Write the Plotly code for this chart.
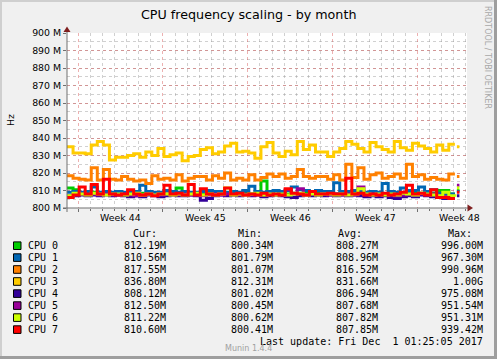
import pandas as pd
import plotly.graph_objects as go

# ---------------- data ----------------
names = ["CPU 0", "CPU 1", "CPU 2", "CPU 3", "CPU 4", "CPU 5", "CPU 6", "CPU 7"]
colors = ["#00CC00", "#0066B3", "#FF8000", "#FFCC00", "#330099", "#990099", "#CCFF00", "#FF0000"]
cur_txt = ["812.19M", "810.56M", "817.55M", "836.80M", "808.12M", "812.50M", "811.22M", "810.60M"]
min_txt = ["800.34M", "801.79M", "801.07M", "812.31M", "801.02M", "800.45M", "800.62M", "800.41M"]
avg_txt = ["808.27M", "808.96M", "816.52M", "831.66M", "806.94M", "807.68M", "807.82M", "807.85M"]
max_txt = ["996.00M", "967.30M", "990.96M", "1.00G", "975.08M", "951.54M", "951.31M", "939.42M"]
week_labels = ["Week 44", "Week 45", "Week 46", "Week 47", "Week 48"]
week_starts = ["2017-10-30", "2017-11-06", "2017-11-13", "2017-11-20", "2017-11-27"]
y_ticks = [800, 810, 820, 830, 840, 850, 860, 870, 880, 890, 900]

# 12-hourly samples (MHz)
cpu0 = [811.5, 810.5, 808, 808.5, 809, 808, 808.5, 808, 808, 808.5, 808, 808, 808.5, 808, 808, 808.5, 808, 808, 811.5, 808, 808.5, 808,
        808, 808.5, 808, 808, 808.5, 808, 808, 808.5, 808, 808.5, 815.5, 808.5, 808, 808.5, 808, 808.5, 808, 809, 808, 808.5, 808,
        808.5, 808, 808.5, 808, 808.5, 808, 808.5, 808, 808.5, 808, 808.5, 808, 808, 808.5, 809, 808.5, 808, 808.5, 810, 810, 808, 808]
cpu1 = [809, 809.5, 809, 809.5, 812, 809, 809.5, 809, 809.5, 809, 809, 809.5, 813, 809.5, 809, 809, 810, 809.5, 809, 809.5, 809, 809,
        809.5, 810, 809.5, 809.5, 809, 809.5, 809, 810, 812.5, 809.5, 809, 809.5, 810, 809.5, 810, 812, 810.5, 810, 809.5, 810, 809.5,
        809.5, 814.5, 809.5, 809.5, 810, 809.5, 809, 809.5, 809, 814, 809.5, 809, 811.5, 810, 810, 812, 809.5, 810.5, 808.5, 808, 808, 808]
cpu2 = [818.5, 817, 816.5, 816, 823, 816, 822, 816.5, 816, 818, 816.5, 815.5, 816, 814, 818.5, 816.5, 817, 816, 819, 815.5, 817, 818,
        818, 816, 818.5, 817, 820, 816, 817, 816, 819, 816, 817.5, 819.5, 818, 819.5, 817, 818, 822, 818, 817, 818, 818,
        816.5, 819, 816, 825, 817.5, 823, 816.5, 819, 820, 817, 818, 819.5, 817, 825, 818, 819, 816.5, 817.5, 816.5, 816, 819.5, 819.5]
cpu3 = [835, 831.5, 831.5, 831, 836, 838, 836, 827.5, 829, 829, 830, 831, 829, 832, 830, 834, 829.5, 830.5, 831.5, 827, 829.5, 830,
        833.5, 834.5, 831, 832, 835.5, 837, 832, 832.5, 831.5, 828.5, 835, 837.5, 831.5, 829.5, 832.5, 830.5, 838, 833.5, 836, 832, 832,
        829.5, 832, 834, 838, 836.5, 834, 832, 837.5, 835, 833.5, 832, 838, 834.5, 833, 837, 835.5, 834, 832, 836, 833, 836.5, 836.5]
cpu4 = [806.5, 807, 807.5, 807, 807.5, 807, 807.5, 807, 807.5, 807, 806.5, 807, 806.5, 807.5, 807, 806.5, 807, 807.5, 807, 807, 807.5, 807,
        804.5, 805.5, 807, 807.5, 807, 807.5, 807, 807.5, 807, 807.5, 806.5, 807, 807.5, 807, 806.5, 806, 807, 807.5, 807, 807.5, 807,
        807.5, 807, 807.5, 807, 807.5, 807, 806.5, 807, 806.5, 807, 806, 805.5, 806.5, 807, 806.5, 807.5, 807, 806.5, 806, 805.5, 805.5, 805.5]
cpu5 = [807, 807.5, 808, 807.5, 808, 807.5, 808, 807.5, 807.5, 808, 807.5, 807, 807.5, 808, 807.5, 807.5, 808, 807.5, 807.5, 808, 807.5, 807.5,
        807, 807.5, 808, 807.5, 808, 807.5, 807.5, 808, 807.5, 808, 807.5, 808, 807.5, 807.5, 810.5, 808, 811, 807.5, 808, 807.5, 808,
        807.5, 808, 807.5, 808, 807.5, 812, 807.5, 808, 807.5, 808, 807.5, 807, 807.5, 808, 807.5, 808, 807.5, 808, 807, 806.5, 806.5, 806.5]
cpu6 = [807, 808.5, 808, 807.5, 808.5, 808, 807.5, 808, 808, 807.5, 808, 808.5, 807.5, 808, 807.5, 808, 808, 807.5, 808, 807.5, 808, 808.5,
        807.5, 808, 807.5, 808, 811.5, 807.5, 808, 807.5, 808, 808.5, 807.5, 808, 807.5, 808, 807.5, 808, 808.5, 807.5, 808, 807.5, 808,
        808, 807.5, 808, 807.5, 808, 811, 808, 807.5, 808, 807.5, 808, 807.5, 808.5, 808, 807.5, 808.5, 808, 807.5, 807, 809, 807, 806.5]
cpu7 = [806, 807.5, 812, 808, 813.5, 808, 816.5, 808, 807.5, 808, 810.5, 808, 807.5, 808, 807, 808, 813, 808, 808.5, 807.5, 813.5, 807.5,
        811, 808, 807.5, 808, 811.5, 808, 808.5, 807.5, 808, 807.5, 808.5, 807.5, 808, 807.5, 811, 808.5, 808, 807.5, 809.5, 808, 808,
        808.5, 808, 808, 817, 808, 808.5, 807.5, 808, 807.5, 808.5, 807.5, 808, 809, 813, 808, 808.5, 807.5, 810.5, 806, 806, 805.5, 805.5]
series = [cpu0, cpu1, cpu2, cpu3, cpu4, cpu5, cpu6, cpu7]
# last isolated samples after the gap
tail_vals = [810, 809.5, 818, 835, 807, 813, 811.5, 809]
tail_times = ["2017-11-30 06:00", "2017-11-30 11:00"]

times = [t.strftime("%Y-%m-%d %H:%M") for t in pd.date_range("2017-10-29 02:00", periods=65, freq="12h")]
x_start, x_end = "2017-10-29 02:00", "2017-12-01 02:00"

# ---------------- geometry ----------------
W, H = 497, 359
PL, PR, PT, PB = 67, 467, 33, 208


def fx(px):
    return (px - PL) / (PR - PL)


def fy(py):
    return (PB - py) / (PB - PT)


fig = go.Figure()
for name, col, vals, tv in zip(names, colors, series, tail_vals):
    fig.add_trace(go.Scatter(
        x=times + [tail_times[0]] + tail_times,
        y=vals + [None] + [tv, tv],
        mode="lines", line=dict(color=col, width=3, shape="hv"),
        name=name, showlegend=False, connectgaps=False, hoverinfo="skip"))

RED_GRID = "rgba(210,60,60,0.40)"
GREY_GRID = "rgba(150,150,150,0.45)"
AXIS = "#707070"
FONT = "DejaVu Sans"
MONO = "DejaVu Sans Mono"

fig.update_layout(
    width=W, height=H, autosize=False,
    margin=dict(l=PL, r=W - PR, t=PT, b=H - PB, pad=0),
    paper_bgcolor="#F0F0F0", plot_bgcolor="#FFFFFF",
    showlegend=False,
    xaxis=dict(type="date", range=[x_start, x_end], showticklabels=False, automargin=False,
               tickmode="linear", tick0="2017-10-30", dtick=7 * 86400000,
               showgrid=True, gridcolor=RED_GRID, griddash="dot", gridwidth=1,
               ticks="outside", ticklen=3, tickcolor=AXIS, zeroline=False, showline=False,
               minor=dict(tickmode="linear", tick0="2017-10-30", dtick=86400000, showgrid=True,
                          gridcolor=GREY_GRID, griddash="dot", gridwidth=1,
                          ticks="outside", ticklen=2, tickcolor=AXIS)),
    yaxis=dict(range=[800, 900], tickmode="array", tickvals=y_ticks, automargin=False,
               ticktext=[f"{v} M" for v in y_ticks],
               showgrid=True, gridcolor=RED_GRID, griddash="dot", gridwidth=1,
               ticks="outside", ticklen=3, tickcolor=AXIS, zeroline=False, showline=False,
               tickfont=dict(family=FONT, size=9.4, color="#000"),
               minor=dict(tickmode="linear", tick0=800, dtick=5, showgrid=True,
                          gridcolor=GREY_GRID, griddash="dot", gridwidth=1)),
)

shapes = []
# frame of the image
shapes.append(dict(type="rect", xref="paper", yref="paper", x0=fx(0), x1=fx(2), y0=fy(H), y1=fy(0),
                   line=dict(width=0), fillcolor="#CFCFCF"))
shapes.append(dict(type="rect", xref="paper", yref="paper", x0=fx(0), x1=fx(W), y0=fy(2), y1=fy(0),
                   line=dict(width=0), fillcolor="#CFCFCF"))
shapes.append(dict(type="rect", xref="paper", yref="paper", x0=fx(W - 3), x1=fx(W), y0=fy(H), y1=fy(0),
                   line=dict(width=0), fillcolor="#9E9E9E"))
shapes.append(dict(type="rect", xref="paper", yref="paper", x0=fx(0), x1=fx(W), y0=fy(H), y1=fy(H - 3),
                   line=dict(width=0), fillcolor="#9E9E9E"))
# axes
shapes.append(dict(type="line", xref="paper", yref="paper", x0=fx(63), x1=fx(469), y0=0, y1=0,
                   line=dict(color=AXIS, width=1)))
shapes.append(dict(type="line", xref="paper", yref="paper", x0=0, x1=0, y0=fy(212), y1=fy(30),
                   line=dict(color=AXIS, width=1)))
# arrows
shapes.append(dict(type="path", xref="paper", yref="paper",
                   path=f"M {fx(473)},{fy(208)} L {fx(467.5)},{fy(204.5)} L {fx(467.5)},{fy(211.5)} Z",
                   fillcolor="#7F1F1F", line=dict(width=0)))
shapes.append(dict(type="path", xref="paper", yref="paper",
                   path=f"M {fx(67)},{fy(26.5)} L {fx(63.5)},{fy(32)} L {fx(70.5)},{fy(32)} Z",
                   fillcolor="#7F1F1F", line=dict(width=0)))

ann = []


def text(x, y, s, size=10, family=MONO, color="#000", xanchor="left", angle=0):
    ann.append(dict(xref="paper", yref="paper", x=fx(x), y=fy(y), text=s, showarrow=False,
                    xanchor=xanchor, yanchor="middle", borderpad=0, textangle=angle,
                    font=dict(family=family, size=size, color=color)))


text(248.5, 14, "CPU frequency scaling - by month", size=12.7, family=FONT, xanchor="center")
text(10, 120, "Hz", size=9.4, family=FONT, xanchor="center", angle=-90)
text(488, 57, "RRDTOOL / TOBI OETIKER", size=8, family=FONT, color="#A8A8A8", xanchor="center", angle=90)

for lab, ws in zip(week_labels, week_starts):
    mid = (pd.Timestamp(ws) + pd.Timedelta(hours=84)).strftime("%Y-%m-%d %H:%M")
    ann.append(dict(xref="x", yref="paper", x=mid, y=fy(217.5), text=lab, showarrow=False,
                    xanchor="center", yanchor="middle", borderpad=0,
                    font=dict(family=FONT, size=9.4, color="#000")))

text(131.5, 233, "Cur:")
text(236.5, 233, "Min:")
text(336.5, 233, "Avg:")
text(446.5, 233, "Max:")

row_y = [245.7, 257.6, 269.5, 281.5, 293.6, 305.6, 317.6, 329.6]
for i, ry in enumerate(row_y):
    shapes.append(dict(type="rect", xref="paper", yref="paper", x0=fx(13.5), x1=fx(21), y0=fy(ry + 3.8),
                       y1=fy(ry - 3.8), fillcolor=colors[i], line=dict(color="#000", width=1)))
    text(26.5, ry, names[i])
    text(167, ry, cur_txt[i], xanchor="right")
    text(273.5, ry, min_txt[i], xanchor="right")
    text(378.5, ry, avg_txt[i], xanchor="right")
    text(483.5, ry, max_txt[i], xanchor="right")

text(483.5, 341.7, "Last update: Fri Dec  1 01:25:05 2017", xanchor="right")
text(248, 348.5, "Munin 1.4.4", size=8, family=FONT, color="#A0A0A0", xanchor="center")

fig.update_layout(shapes=shapes, annotations=ann)
fig.write_html("out.html", config={"displayModeBar": False, "staticPlot": True},
               post_script="document.body.style.margin='0';document.body.style.overflow='hidden';")
